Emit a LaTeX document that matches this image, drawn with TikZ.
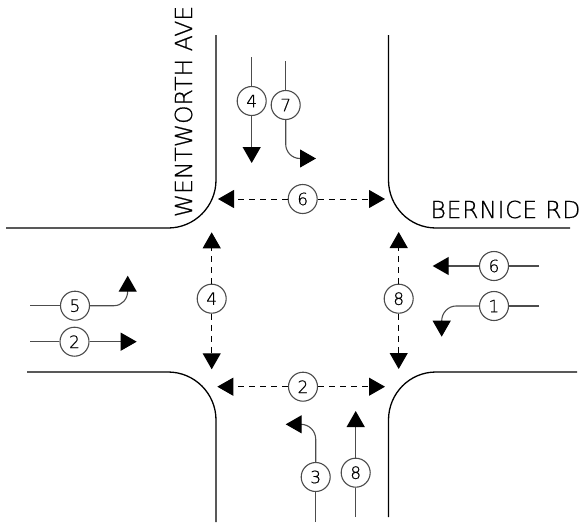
\documentclass[tikz,border=0pt]{standalone}
\usepackage{fontspec}
\setmainfont{DejaVu Sans ExtraLight}[FakeBold=0.6]
\usetikzlibrary{arrows.meta}
\tikzset{
  curb/.style={line width=1.3pt,black},
  flow/.style={line width=1.1pt,black!70,-{Triangle[length=16pt,width=18pt,color=black]}},
  plainflow/.style={line width=1.1pt,black!70},
  ped/.style={line width=1pt,black,dash pattern=on 6pt off 5pt},
  pedtip/.style={ped,-{Triangle[length=16pt,width=18pt,color=black]}},
  num/.style={circle,draw=black!70,line width=1.1pt,fill=white,minimum size=29pt,inner sep=0pt,font=\fontsize{17}{17}\selectfont},
  road/.style={inner sep=0pt,font=\fontsize{23.5}{23.5}\selectfont}
}
\begin{document}
\begin{tikzpicture}[x=1pt,y=-1pt]
\useasboundingbox (0,0) rectangle (582,523);
% curbs
\draw[curb] (216,35) -- (216,180) .. controls (216,206.5) and (194.5,228) .. (168,228) -- (6,228);
\draw[curb] (388.5,35) -- (388.5,180) .. controls (388.5,206.5) and (409.5,228) .. (436,228) -- (570,228);
\draw[curb] (577,372) -- (436,372) .. controls (409.5,372) and (388.5,393.5) .. (388.5,420) -- (388.5,517);
\draw[curb] (27,372) -- (168,372) .. controls (194.5,372) and (216,393.5) .. (216,420) -- (216,522);
% labels
\node[road,rotate=90,anchor=center] (wa) at (183.5,111.5) {WENTWORTH AVE};
\node[road,anchor=center] (br) at (505.5,209.5) {\addfontfeature{LetterSpace=3}BERNICE RD};
% numbered circles
\node[num] (a4) at (251.7,101) {4};
\node[num] (a7) at (285.7,105) {7};
\node[num] (p6) at (302.7,199) {6};
\node[num] (c6) at (494,266) {6};
\node[num] (c1) at (494,306) {1};
\node[num] (p8) at (398.7,298.7) {8};
\node[num] (p4) at (211.7,298.7) {4};
\node[num] (b5) at (75,305.7) {5};
\node[num] (b2) at (74.5,341.7) {2};
\node[num] (p2) at (303,386.7) {2};
\node[num] (d3) at (315.7,477) {3};
\node[num] (d8) at (355.7,472.7) {8};
% free ends
\coordinate (a4s) at (251.7,57);   \coordinate (a4e) at (251.7,163);
\coordinate (a7s) at (285.7,61);   \coordinate (a7m) at (285.7,144);
\coordinate (a7n) at (300,158.5);  \coordinate (a7e) at (316,158.5);
\coordinate (p6l) at (218,199);    \coordinate (p6r) at (385,199);
\coordinate (c6s) at (539,266);    \coordinate (c6e) at (432.7,266);
\coordinate (c1s) at (539,306);    \coordinate (c1m) at (456,306);
\coordinate (c1n) at (441.7,321);  \coordinate (c1e) at (441.7,336.7);
\coordinate (p8t) at (398.7,232);  \coordinate (p8b) at (398.7,369);
\coordinate (p4t) at (211.7,232.3);\coordinate (p4b) at (211.7,369.3);
\coordinate (b5s) at (30,305.7);   \coordinate (b5m) at (114,305.7);
\coordinate (b5n) at (127.7,291);  \coordinate (b5e) at (127.7,275.7);
\coordinate (b2s) at (30,341.7);   \coordinate (b2e) at (136.7,341.7);
\coordinate (p2l) at (217.3,386.7);\coordinate (p2r) at (385,386.7);
\coordinate (d3s) at (315.7,522);  \coordinate (d3m) at (315.7,439);
\coordinate (d3n) at (301,424.3);  \coordinate (d3e) at (285.7,424.3);
\coordinate (d8s) at (355.7,517);  \coordinate (d8e) at (355.7,411);
% vehicle movements
\draw[plainflow] (a4s) -- (a4); \draw[flow] (a4) -- (a4e);
\draw[plainflow] (a7s) -- (a7);
\draw[plainflow] (a7) -- (a7m) .. controls (285.7,152) and (292,158.5) .. (a7n); \draw[flow] (a7n) -- (a7e);
\draw[plainflow] (c6s) -- (c6); \draw[flow] (c6) -- (c6e);
\draw[plainflow] (c1s) -- (c1);
\draw[plainflow] (c1) -- (c1m) .. controls (448,306) and (441.7,313) .. (c1n); \draw[flow] (c1n) -- (c1e);
\draw[plainflow] (b5s) -- (b5);
\draw[plainflow] (b5) -- (b5m) .. controls (122,305.7) and (127.7,299) .. (b5n); \draw[flow] (b5n) -- (b5e);
\draw[plainflow] (b2s) -- (b2); \draw[flow] (b2) -- (b2e);
\draw[plainflow] (d3s) -- (d3);
\draw[plainflow] (d3) -- (d3m) .. controls (315.7,431) and (309,424.3) .. (d3n); \draw[flow] (d3n) -- (d3e);
\draw[plainflow] (d8s) -- (d8); \draw[flow] (d8) -- (d8e);
% pedestrian movements
\draw[pedtip] (p6) -- (p6l); \draw[pedtip] (p6) -- (p6r);
\draw[pedtip] (p8) -- (p8t); \draw[pedtip] (p8) -- (p8b);
\draw[pedtip] (p4) -- (p4t); \draw[pedtip] (p4) -- (p4b);
\draw[pedtip] (p2) -- (p2l); \draw[pedtip] (p2) -- (p2r);
\end{tikzpicture}
\end{document}
